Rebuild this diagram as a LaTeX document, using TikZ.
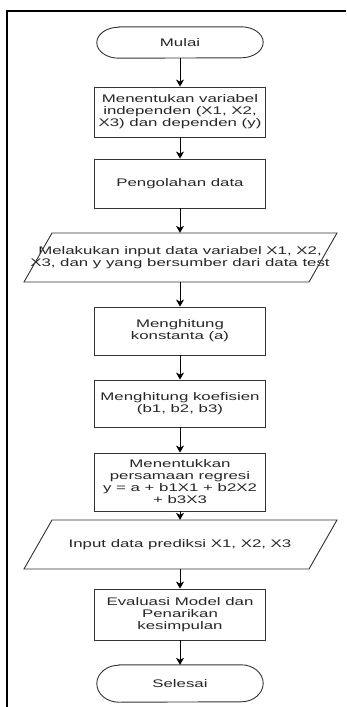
\documentclass[tikz,border=0pt]{standalone}
\usepackage{fontspec}
\newfontfamily\flowfont{Liberation Sans}[FakeStretch=1.53]
\usetikzlibrary{arrows.meta}

\tikzset{
  garis/.style={draw=black!80,line width=0.9pt},
  proses/.style={garis,minimum width=171,minimum height=#1,align=center,inner sep=1pt},
  terminal/.style={minimum width=166,minimum height=#1,inner sep=0pt},
  datain/.style={minimum height=49,align=center,inner sep=0pt},
  panah/.style={-{Stealth[length=7pt,width=8pt,inset=2pt]},line width=1pt,black}
}

\begin{document}
\begin{tikzpicture}[x=1pt,y=1pt,font=\flowfont\fontsize{11}{12}\selectfont,text=black!85]
\useasboundingbox (0,0) rectangle (346,-707);
% bingkai
\draw[line width=2.6pt] (346,-11)--(7,-11)--(7,-707);

\node[terminal=31] (mulai) at (180,-42.5) {Mulai};
\node[proses=50] (variabel) at (180,-112) {Menentukan variabel\\independen (X1, X2,\\X3) dan dependen (y)};
\node[proses=49] (olah) at (180,-183.5) {Pengolahan data};
\node[datain] (input) at (180,-257.5) {Melakukan input data variabel X1, X2,\\X3, dan y yang bersumber dari data test};
\node[proses=48] (konstanta) at (180,-331) {Menghitung\\konstanta (a)};
\node[proses=47] (koefisien) at (180,-403.5) {Menghitung koefisien\\(b1, b2, b3)};
\node[proses=58] (regresi) at (180,-482) {Menentukkan\\persamaan regresi\\y = a + b1X1 + b2X2\\+ b3X3};
\node[datain] (prediksi) at (180,-544.5) {Input data prediksi X1, X2, X3};
\node[proses=51] (evaluasi) at (180,-614.5) {Evaluasi Model dan\\Penarikan\\kesimpulan};
\node[terminal=37] (selesai) at (180,-683.5) {Selesai};

% bentuk terminal dan data
\foreach \n/\r in {mulai/15.5,selesai/18.5}{
  \draw[garis] ([xshift=22]\n.north west) -- ([xshift=-22]\n.north east)
    arc[start angle=90,end angle=-90,x radius=22,y radius=\r]
    -- ([xshift=22]\n.south west)
    arc[start angle=270,end angle=90,x radius=22,y radius=\r] -- cycle;}
\foreach \n in {input,prediksi}{
  \draw[garis] (\n.center) ++(-128,24.5) -- ++(285,0) -- ++(-28,-49) -- ++(-285,0) -- cycle;}

% panah
\foreach \a/\b in {mulai/variabel,variabel/olah,olah/input,input/konstanta,konstanta/koefisien,koefisien/regresi,regresi/prediksi,prediksi/evaluasi,evaluasi/selesai}
  {\draw[panah] (\a.south) -- (\b.north);}
\end{tikzpicture}
\end{document}
